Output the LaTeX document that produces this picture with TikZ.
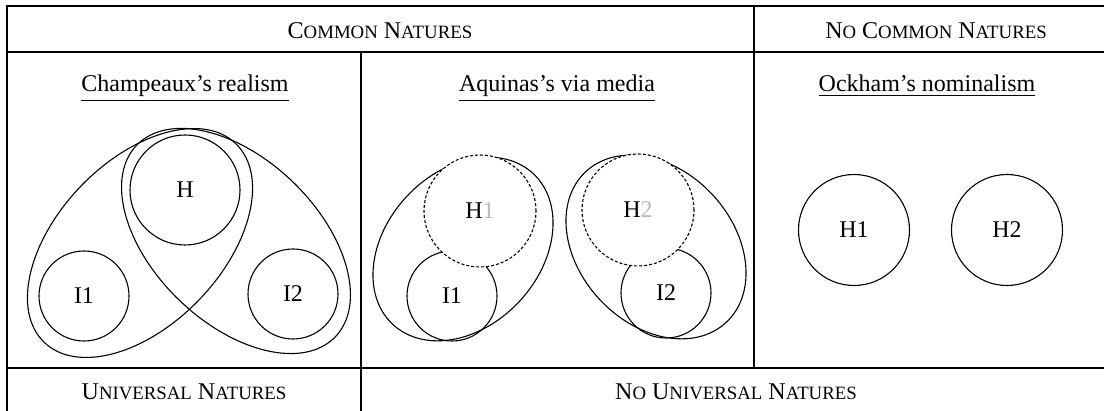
\documentclass[tikz,border=0pt]{standalone}
\usepackage{fontspec}
\setmainfont{Liberation Serif}
\usetikzlibrary{shapes.geometric}
\newcommand{\fsc}[2]{#1{\fontsize{9.4}{10}\selectfont #2}}
\newcommand{\ghost}[1]{{\color{gray!55}#1}}
\begin{document}
\begin{tikzpicture}[x=0.5pt,y=-0.5pt,
  grid/.style={line width=1pt},
  outline/.style={line width=0.55pt},
  setc/.style={circle, draw, line width=0.55pt, inner sep=0pt, font=\fontsize{12}{14}\selectfont},
  hidden/.style={setc, fill=white, dash pattern=on 1.5pt off 1pt},
  hd/.style={font=\fontsize{12}{14}\selectfont, inner sep=0pt, anchor=base},
]
\useasboundingbox (0,0) rectangle (1104,411);
% table
\draw[grid] (6,6) -- (1104,6);
\draw[grid] (6,52) -- (1104,52);
\draw[grid] (6,368) -- (1104,368);
\draw[grid] (7,6) -- (7,411);
\draw[grid] (361,52) -- (361,411);
\draw[grid] (754,6) -- (754,368);
% headers
\node[hd] (cn) at (380,39) {\fsc{C}{OMMON} \fsc{N}{ATURES}};
\node[hd] (ncn) at (936,39) {\fsc{N}{O} \fsc{C}{OMMON} \fsc{N}{ATURES}};
\node[hd] (un) at (184,400) {\fsc{U}{NIVERSAL} \fsc{N}{ATURES}};
\node[hd] (nun) at (736,400) {\fsc{N}{O} \fsc{U}{NIVERSAL} \fsc{N}{ATURES}};
% titles
\node[hd] (t1) at (185,92) {\underline{Champeaux’s realism}};
\node[hd] (t2) at (557,92) {\underline{Aquinas’s via media}};
\node[hd] (t3) at (927,92) {\underline{Ockham’s nominalism}};
% Champeaux
\node[setc, minimum size=55pt] (H) at (185,190) {H};
\node[setc, minimum size=45pt] (I1) at (84,296) {I1};
\node[setc, minimum size=45pt] (I2) at (293,294) {I2};
\draw[outline, rotate around={46:(140,243)}] (140,243) ellipse [x radius=69pt, y radius=41pt];
\draw[outline, rotate around={-44:(236,241)}] (236,241) ellipse [x radius=69pt, y radius=41pt];
% Aquinas
\draw[outline, rotate around={47:(463,249)}] (463,249) ellipse [x radius=51.5pt, y radius=38.5pt];
\draw[outline, rotate around={-47:(656,247)}] (656,247) ellipse [x radius=51.5pt, y radius=38.5pt];
\node[setc, minimum size=45pt] (AI1) at (452,296) {I1};
\node[setc, minimum size=45pt] (AI2) at (666,293) {I2};
\node[hidden, minimum size=56pt] (AH1) at (480,211) {H\ghost{1}};
\node[hidden, minimum size=56pt] (AH2) at (638,210) {H\ghost{2}};
% Ockham
\node[setc, minimum size=55.5pt] (OH1) at (854,230) {H1};
\node[setc, minimum size=55.5pt] (OH2) at (1007,230) {H2};
\end{tikzpicture}
\end{document}
